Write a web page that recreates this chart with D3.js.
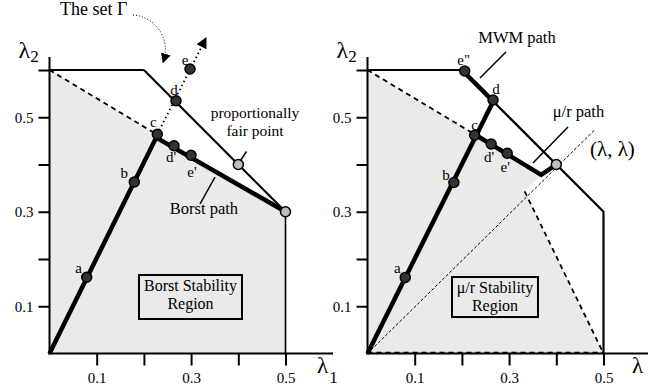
<!DOCTYPE html>
<html><head><meta charset="utf-8">
<script src="https://cdn.jsdelivr.net/npm/d3@7"></script>
<style>
body{margin:0;background:#fff}
svg text{font-family:"Liberation Serif","Times New Roman",serif;fill:#000}
</style>
</head><body>
<svg id="c" width="648" height="389" font-family="Liberation Serif, serif"></svg>
<script>
// ---------- data ----------
const tickValuesX = [0.1, 0.2, 0.3, 0.4, 0.5];
const tickLabelsX = ["0.1", "", "0.3", "", "0.5"];
const tickValuesY = [0.1, 0.2, 0.3, 0.4, 0.5, 0.6];
const tickLabelsY = ["0.1", "", "0.3", "", "0.5", ""];

// Left panel: Borst
const gammaTop = [[0, 0.6], [0.2, 0.6]];
const gammaDiag = [[0.2, 0.6], [0.5, 0.3]];
const gammaSide = [[0.5, 0.3], [0.5, 0]];
const borstRegion = [[0, 0], [0, 0.6], [0.2275, 0.4635], [0.5, 0.3], [0.5, 0]];
const borstDashed = [[0, 0.6], [0.2275, 0.4635]];
const borstPath = [[0, 0], [0.226, 0.457], [0.5, 0.3]];
const borstRay = [[0.2284, 0.4639], [0.3316, 0.6677]];
const borstNames = ["a", "b", "c", "d", "e", "d'", "e'"];
const borstX = [0.0788, 0.1797, 0.2284, 0.268, 0.2977, 0.2638, 0.2998];
const borstY = [0.1613, 0.363, 0.4639, 0.535, 0.6021, 0.4398, 0.4195];
const borstOpenX = [0.4, 0.5];
const borstOpenY = [0.4, 0.3];

// Right panel: MWM and mu/r
const mwmTop = [[0, 0.6], [0.2, 0.6]];
const mwmPath = [[0.2, 0.6], [0.267, 0.533]];
const mwmRest = [[0.267, 0.533], [0.5, 0.3], [0.5, 0]];
const murRegion = [[0, 0], [0, 0.6], [0.2275, 0.4635], [0.368, 0.378], [0.333, 0.343], [0.5, 0]];
const murDashedTop = [[0, 0.6], [0.2275, 0.4635]];
const murDashedSide = [[0.333, 0.343], [0.5, 0]];
const murDashedBottom = [[0, 0.002], [0.5, 0.002]];
const diagonal = [[0, 0], [0.481, 0.473]];
const rayToD = [[0, 0], [0.267, 0.535]];
const murPath = [[0.2275, 0.4635], [0.368, 0.378], [0.4, 0.4]];
const murNames = ["a", "b", "c", "d", "d'", "e'", "e\""];
const murX = [0.080, 0.183, 0.227, 0.266, 0.262, 0.296, 0.206];
const murY = [0.161, 0.362, 0.462, 0.5365, 0.4434, 0.4237, 0.598];
const murOpenX = [0.4];
const murOpenY = [0.4];

// ---------- drawing ----------
const FONT = "'Liberation Serif', 'Times New Roman', serif";
const svg = d3.select("#c");
const xL = d3.scaleLinear().domain([0, 0.5]).range([49.5, 285.5]);
const xR = d3.scaleLinear().domain([0, 0.5]).range([367.5, 603.5]);
const y = d3.scaleLinear().domain([0, 0.6]).range([353.5, 70]);

const defs = svg.append("defs");
defs.append("marker").attr("id", "ah").attr("viewBox", "0 0 10 10")
  .attr("refX", 9).attr("refY", 5).attr("markerWidth", 10).attr("markerHeight", 10)
  .attr("markerUnits", "userSpaceOnUse").attr("orient", "auto")
  .append("path").attr("d", "M0,0 L10,5 L0,10 Z").attr("fill", "#000");
defs.append("marker").attr("id", "ah2").attr("viewBox", "0 0 10 10")
  .attr("refX", 9).attr("refY", 5).attr("markerWidth", 15).attr("markerHeight", 11)
  .attr("markerUnits", "userSpaceOnUse").attr("orient", "auto")
  .append("path").attr("d", "M0,0 L10,5 L0,10 Z").attr("fill", "#000");

function txt(sel) { return sel.style("font-family", FONT).style("fill", "#000"); }

function drawPanel(x, axisEndPx, subX) {
  const line = d3.line().x(d => x(d[0])).y(d => y(d[1]));
  const g = svg.append("g");
  const gx = g.append("g").attr("transform", `translate(0,${y(0)})`)
    .call(d3.axisBottom(x).tickValues(tickValuesX).tickFormat((d, i) => tickLabelsX[i])
      .tickSize(12).tickSizeOuter(0).tickPadding(7));
  gx.attr("font-family", FONT);
  gx.select(".domain").remove();
  gx.selectAll("line").attr("stroke", "#000").attr("stroke-width", 2);
  txt(gx.selectAll("text")).style("font-size", "15px");
  const gy = g.append("g").attr("transform", `translate(${x(0)},0)`)
    .call(d3.axisLeft(y).tickValues(tickValuesY).tickFormat((d, i) => tickLabelsY[i])
      .tickSize(11).tickSizeOuter(0).tickPadding(5));
  gy.attr("font-family", FONT);
  gy.select(".domain").remove();
  gy.selectAll("line").attr("stroke", "#000").attr("stroke-width", 2);
  txt(gy.selectAll("text")).style("font-size", "15px");
  g.append("line").attr("x1", x(0) - 1).attr("x2", axisEndPx).attr("y1", y(0)).attr("y2", y(0))
    .attr("stroke", "#000").attr("stroke-width", 2);
  g.append("line").attr("x1", x(0)).attr("x2", x(0)).attr("y1", y(0) + 1).attr("y2", 57)
    .attr("stroke", "#000").attr("stroke-width", 2);
  // axis titles
  const t2 = txt(g.append("text").attr("x", x(0) - 31).attr("y", 58));
  t2.append("tspan").text("λ").style("font-size", "24px");
  t2.append("tspan").text("2").attr("dy", 4).style("font-size", "17px");
  const t1 = txt(g.append("text").attr("x", axisEndPx - 16).attr("y", 373));
  t1.append("tspan").text("λ").style("font-size", "23px");
  if (subX) t1.append("tspan").text("1").attr("dx", 1).attr("dy", 10).style("font-size", "17px");
  return {g, line};
}

function points(g, x, xs, ys, fill) {
  g.selectAll(null).data(xs).enter().append("circle")
    .attr("cx", (d, i) => x(xs[i])).attr("cy", (d, i) => y(ys[i])).attr("r", 5)
    .attr("fill", fill).attr("stroke", "#000").attr("stroke-width", 1.5);
}
function labels(g, x, names, xs, ys, offs) {
  txt(g.selectAll(null).data(names).enter().append("text")
    .attr("x", (d, i) => x(xs[i]) + offs[i][0]).attr("y", (d, i) => y(ys[i]) + offs[i][1])
    .attr("text-anchor", "middle")).style("font-size", "15px").text(d => d);
}
function label(g, px, py, s, size, anchor) {
  return txt(g.append("text").attr("x", px).attr("y", py).attr("text-anchor", anchor || "middle"))
    .style("font-size", size + "px").text(s);
}
function box(g, x, x0, y0, x1, y1, lines, cx, b1, b2) {
  g.append("rect").attr("x", x(x0)).attr("y", y(y0)).attr("width", x(x1) - x(x0)).attr("height", y(y1) - y(y0))
    .attr("fill", "none").attr("stroke", "#000").attr("stroke-width", 2);
  label(g, x(cx), y(b1), lines[0], 16);
  label(g, x(cx), y(b2), lines[1], 16);
}

// ----- Left panel -----
{
  const {g, line} = drawPanel(xL, 333, true);
  const L = g.append("g");
  L.append("path").attr("d", line(borstRegion) + "Z").attr("fill", "#eaeaea").attr("stroke", "none");
  g.node().insertBefore(L.node(), g.node().firstChild);
  g.append("path").attr("d", line(borstDashed)).attr("fill", "none").attr("stroke", "#000")
    .attr("stroke-width", 1.8).attr("stroke-dasharray", "5,4");
  g.append("path").attr("d", line(gammaTop)).attr("fill", "none").attr("stroke", "#000").attr("stroke-width", 1.8);
  g.append("path").attr("d", line(gammaDiag)).attr("fill", "none").attr("stroke", "#000").attr("stroke-width", 2.2);
  g.append("path").attr("d", line(gammaSide)).attr("fill", "none").attr("stroke", "#000").attr("stroke-width", 1.6);
  g.append("path").attr("d", line(borstRay)).attr("fill", "none").attr("stroke", "#000")
    .attr("stroke-width", 1.8).attr("stroke-dasharray", "1.5,3").attr("marker-end", "url(#ah2)");
  g.append("path").attr("d", line(borstPath)).attr("fill", "none").attr("stroke", "#000")
    .attr("stroke-width", 4.5).attr("stroke-linejoin", "miter");
  points(g, xL, borstX, borstY, "#333");
  points(g, xL, borstOpenX, borstOpenY, "#bdbdbd");
  labels(g, xL, borstNames, borstX, borstY,
    [[-8, -4], [-10, -4], [-4, -7], [-2, -6], [-5, -4], [-3, 16], [1, 22]]);
  // annotations
  label(g, xL(0.0222), y(0.7164), "The set Γ", 18, "start");
  g.append("path")
    .attr("d", `M${xL(0.1769)},${y(0.7164)} C${xL(0.2172)},${y(0.714)} ${xL(0.2596)},${y(0.674)} ${xL(0.2405)},${y(0.6159)}`)
    .attr("fill", "none").attr("stroke", "#000").attr("stroke-width", 1).attr("stroke-dasharray", "1,2")
    .attr("marker-end", "url(#ah)");
  label(g, xL(0.4354), y(0.4984), "proportionally", 15.5);
  label(g, xL(0.4354), y(0.4603), "fair point", 15.5);
  g.append("path").attr("d", line([[0.4174, 0.4275], [0.4047, 0.4085]])).attr("stroke", "#000").attr("stroke-width", 1.5);
  label(g, xL(0.3273), y(0.2952), "Borst path", 16.5);
  g.append("path").attr("d", line([[0.3506, 0.3735], [0.3189, 0.3164]])).attr("stroke", "#000").attr("stroke-width", 1.5);
  box(g, xL, 0.1896, 0.1661, 0.4078, 0.073, ["Borst Stability", "Region"], 0.2987, 0.1323, 0.0942);
}

// ----- Right panel -----
{
  const {g, line} = drawPanel(xR, 648, false);
  const R = g.append("g");
  R.append("path").attr("d", line(murRegion) + "Z").attr("fill", "#eaeaea").attr("stroke", "none");
  g.node().insertBefore(R.node(), g.node().firstChild);
  const dashed = (d, w) => g.append("path").attr("d", line(d)).attr("fill", "none").attr("stroke", "#000")
    .attr("stroke-width", w).attr("stroke-dasharray", "5,4");
  dashed(murDashedTop, 1.8);
  dashed(murDashedSide, 1.8);
  dashed(murDashedBottom, 1.6);
  g.append("path").attr("d", line(diagonal)).attr("fill", "none").attr("stroke", "#000")
    .attr("stroke-width", 1).attr("stroke-dasharray", "3,2");
  g.append("path").attr("d", line(mwmTop)).attr("fill", "none").attr("stroke", "#000").attr("stroke-width", 1.8);
  g.append("path").attr("d", line(mwmRest)).attr("fill", "none").attr("stroke", "#000").attr("stroke-width", 2.2);
  g.append("path").attr("d", line(mwmPath)).attr("fill", "none").attr("stroke", "#000").attr("stroke-width", 4.5);
  g.append("path").attr("d", line(rayToD)).attr("fill", "none").attr("stroke", "#000").attr("stroke-width", 4.5);
  g.append("path").attr("d", line(murPath)).attr("fill", "none").attr("stroke", "#000")
    .attr("stroke-width", 4.5).attr("stroke-linejoin", "miter");
  points(g, xR, murX, murY, "#333");
  points(g, xR, murOpenX, murOpenY, "#bdbdbd");
  labels(g, xR, murNames, murX, murY,
    [[-8, -4], [-8, -2], [0, -5], [3, -6], [-2, 18], [-2, 19], [-1, -6]]);
  label(g, xR(0.3167), y(0.6571), "MWM path", 16.5);
  g.append("path").attr("d", line([[0.2934, 0.6381], [0.2383, 0.5831]])).attr("stroke", "#000").attr("stroke-width", 1.5);
  label(g, xR(0.447), y(0.5005), "μ/r path", 16.5);
  g.append("path").attr("d", line([[0.4248, 0.4794], [0.3506, 0.4032]])).attr("stroke", "#000").attr("stroke-width", 1.5);
  label(g, xR(0.4714), y(0.418), "(λ, λ)", 21, "start");
  box(g, xR, 0.179, 0.1619, 0.3612, 0.0772, ["μ/r Stability", "Region"], 0.2701, 0.128, 0.0899);
}
</script>
</body></html>
